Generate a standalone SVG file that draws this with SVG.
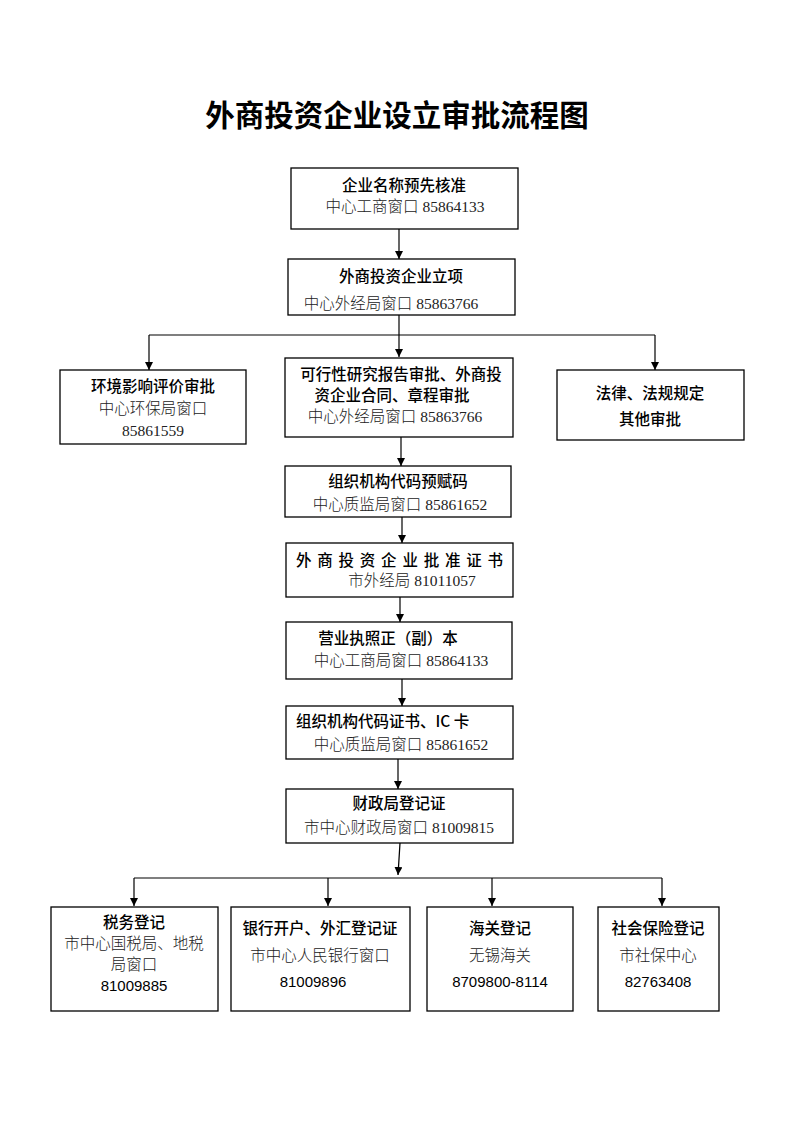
<svg xmlns="http://www.w3.org/2000/svg" width="793" height="1122" viewBox="0 0 793 1122">
<style>
.box{fill:#fff;stroke:#000;stroke-width:1.3}
.h{font-family:"Noto Sans CJK SC","Liberation Sans",sans-serif;font-size:15.5px;font-weight:500;fill:#000;text-anchor:middle}
.s{font-family:"Liberation Serif","Noto Sans CJK SC",serif;font-size:15.5px;font-weight:300;fill:#222;text-anchor:middle}
.n{font-family:"Liberation Sans","Noto Sans CJK SC",sans-serif;font-size:15px;fill:#000;text-anchor:middle}
.t{font-family:"Noto Sans CJK SC","Liberation Sans",sans-serif;font-size:29.5px;font-weight:700;fill:#000;text-anchor:middle}
.c{fill:none;stroke:#000;stroke-width:1.2}
</style>
<defs>
<marker id="ah" markerWidth="8" markerHeight="8" refX="8" refY="4" orient="auto" markerUnits="userSpaceOnUse">
<path d="M0,0 L8,4 L0,8 Z" fill="#000"/>
</marker>
</defs>
<rect width="793" height="1122" fill="#fff"/>
<text class="t" x="397" y="126">外商投资企业设立审批流程图</text>

<g id="connectors">
<path class="c" d="M399,229 V259" marker-end="url(#ah)"/>
<path class="c" d="M399,315 V357" marker-end="url(#ah)"/>
<path class="c" d="M149,335 H655"/>
<path class="c" d="M149,335 V370" marker-end="url(#ah)"/>
<path class="c" d="M655,335 V370" marker-end="url(#ah)"/>
<path class="c" d="M401,437 V466" marker-end="url(#ah)"/>
<path class="c" d="M402,517 V543" marker-end="url(#ah)"/>
<path class="c" d="M400,597 V622" marker-end="url(#ah)"/>
<path class="c" d="M402,679 V706" marker-end="url(#ah)"/>
<path class="c" d="M398,759 V789" marker-end="url(#ah)"/>
<path class="c" d="M400,843 L398,875" marker-end="url(#ah)"/>
<path class="c" d="M134,878 H662"/>
<path class="c" d="M134,878 V906" marker-end="url(#ah)"/>
<path class="c" d="M328,878 V906" marker-end="url(#ah)"/>
<path class="c" d="M492,878 V906" marker-end="url(#ah)"/>
<path class="c" d="M662,878 V906" marker-end="url(#ah)"/>
</g>

<g id="n1">
<rect class="box" x="291" y="168" width="227" height="61"/>
<text class="h" x="404" y="191">企业名称预先核准</text>
<text class="s" x="405" y="212">中心工商窗口 85864133</text>
</g>
<g id="n2">
<rect class="box" x="288" y="259" width="227" height="56"/>
<text class="h" x="401" y="282">外商投资企业立项</text>
<text class="s" x="391" y="309">中心外经局窗口 85863766</text>
</g>
<g id="n3">
<rect class="box" x="60" y="370" width="186" height="74"/>
<text class="h" x="153" y="392">环境影响评价审批</text>
<text class="s" x="153" y="414">中心环保局窗口</text>
<text class="s" x="153" y="436">85861559</text>
</g>
<g id="n4">
<rect class="box" x="285" y="358" width="228" height="79"/>
<text class="h" x="401" y="380">可行性研究报告审批、外商投</text>
<text class="h" x="392" y="401">资企业合同、章程审批</text>
<text class="s" x="395" y="422">中心外经局窗口 85863766</text>
</g>
<g id="n5">
<rect class="box" x="557" y="370" width="187" height="70"/>
<text class="h" x="650" y="399">法律、法规规定</text>
<text class="h" x="650" y="425">其他审批</text>
</g>
<g id="n6">
<rect class="box" x="285" y="466" width="226" height="51"/>
<text class="h" x="398" y="487">组织机构代码预赋码</text>
<text class="s" x="400" y="510">中心质监局窗口 85861652</text>
</g>
<g id="n7">
<rect class="box" x="286" y="543" width="227" height="54"/>
<text class="h" x="296" y="566" style="text-anchor:start" textLength="207" lengthAdjust="spacing">外 商 投 资 企 业 批 准 证 书</text>
<text class="s" x="412" y="586">市外经局 81011057</text>
</g>
<g id="n8">
<rect class="box" x="286" y="622" width="226" height="57"/>
<text class="h" x="388" y="644">营业执照正（副）本</text>
<text class="s" x="401" y="666">中心工商局窗口 85864133</text>
</g>
<g id="n9">
<rect class="box" x="286" y="706" width="227" height="53"/>
<text class="h" x="296" y="727" style="text-anchor:start">组织机构代码证书、IC 卡</text>
<text class="s" x="401" y="750">中心质监局窗口 85861652</text>
</g>
<g id="n10">
<rect class="box" x="286" y="789" width="227" height="54"/>
<text class="h" x="399" y="809">财政局登记证</text>
<text class="s" x="399" y="833">市中心财政局窗口 81009815</text>
</g>
<g id="n11">
<rect class="box" x="51" y="907" width="167" height="104"/>
<text class="h" x="134" y="928">税务登记</text>
<text class="s" x="134" y="949">市中心国税局、地税</text>
<text class="s" x="134" y="970">局窗口</text>
<text class="n" x="134" y="991">81009885</text>
</g>
<g id="n12">
<rect class="box" x="231" y="907" width="179" height="104"/>
<text class="h" x="320" y="934">银行开户、外汇登记证</text>
<text class="s" x="320" y="961">市中心人民银行窗口</text>
<text class="n" x="313" y="987">81009896</text>
</g>
<g id="n13">
<rect class="box" x="427" y="907" width="146" height="104"/>
<text class="h" x="500" y="934">海关登记</text>
<text class="s" x="500" y="961">无锡海关</text>
<text class="n" x="500" y="987">8709800-8114</text>
</g>
<g id="n14">
<rect class="box" x="598" y="907" width="121" height="104"/>
<text class="h" x="658" y="934">社会保险登记</text>
<text class="s" x="658" y="961">市社保中心</text>
<text class="n" x="658" y="987">82763408</text>
</g>
</svg>
